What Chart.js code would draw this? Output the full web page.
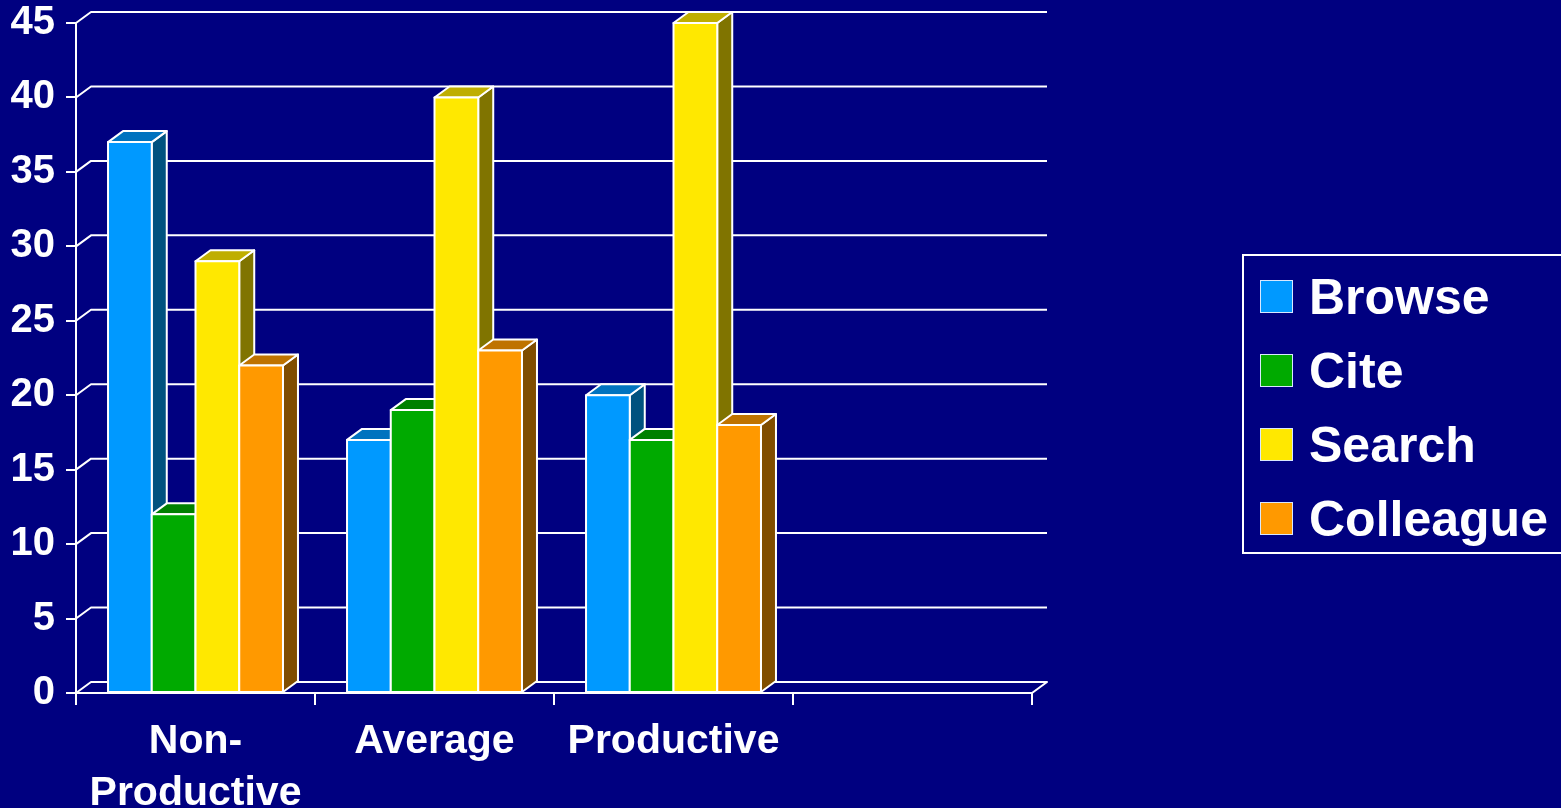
<!DOCTYPE html>
<html>
<head>
<meta charset="utf-8">
<script src="https://cdn.jsdelivr.net/npm/chart.js@4/dist/chart.umd.min.js"></script>
<style>
  html, body { margin: 0; padding: 0; background: #000080; overflow: hidden; }
  canvas { display: block; }
</style>
</head>
<body>
<canvas id="chart" width="1561" height="808"></canvas>
<script>
const groups = [["Non-", "Productive"], "Average", "Productive", ""];
const browse = [37, 17, 20, null];
const cite = [12, 19, 17, null];
const search = [29, 40, 45, null];
const colleague = [22, 23, 18, null];
const names = ["Browse", "Cite", "Search", "Colleague"];

const fronts = ["#0099ff", "#00aa00", "#ffe800", "#ff9900"];
const tops = ["#0073bf", "#008000", "#bfae00", "#bf7300"];
const sides = ["#00527f", "#005500", "#807400", "#804d00"];

const FONT = '"Liberation Sans", Arial, sans-serif';
const DX = 15, DY = 11; // depth of the 3d boxes and back wall

function poly(ctx, pts, fill) {
    ctx.beginPath();
    ctx.moveTo(pts[0][0], pts[0][1]);
    for (let k = 1; k < pts.length; k++) ctx.lineTo(pts[k][0], pts[k][1]);
    ctx.closePath();
    ctx.fillStyle = fill;
    ctx.fill();
    ctx.stroke();
}

// back wall gridlines + floor, then the boxes themselves
const boxes = {
    id: "boxes",
    beforeDatasetsDraw(chart) {
        const { ctx, chartArea: a, scales } = chart;
        const y = scales.y;
        ctx.save();
        ctx.strokeStyle = "#ffffff";
        ctx.lineWidth = 2;
        ctx.lineJoin = "round";
        y.ticks.forEach((t) => {
            const py = y.getPixelForValue(t.value);
            ctx.beginPath();
            ctx.moveTo(a.left, py);
            ctx.lineTo(a.left + DX, py - DY);
            ctx.lineTo(a.right + DX, py - DY);
            if (t.value === 0) ctx.lineTo(a.right, py);
            ctx.stroke();
        });

        const sets = chart.data.datasets;
        for (let c = 0; c < groups.length; c++) {
            sets.forEach((ds, i) => {
                if (ds.data[c] == null) return;
                const bar = chart.getDatasetMeta(i).data[c];
                const { x, y: top, base, width } = bar.getProps(["x", "y", "base", "width"], true);
                const l = x - width / 2, r = x + width / 2;
                poly(ctx, [[r, top], [r + DX, top - DY], [r + DX, base - DY], [r, base]], sides[i]);
                poly(ctx, [[l, top], [l + DX, top - DY], [r + DX, top - DY], [r, top]], tops[i]);
                poly(ctx, [[l, top], [r, top], [r, base], [l, base]], fronts[i]);
            });
        }
        ctx.restore();
        return false;
    },
    afterDraw(chart) {
        const ctx = chart.ctx;
        ctx.save();
        ctx.strokeStyle = "#ffffff";
        ctx.lineWidth = 2;
        ctx.strokeRect(1243, 255, 400, 298);
        ctx.font = "bold 50px " + FONT;
        ctx.textBaseline = "alphabetic";
        chart.data.datasets.forEach((d, i) => {
            const top = 280 + i * 74;
            ctx.fillStyle = d.backgroundColor;
            ctx.fillRect(1260, top, 33, 33);
            ctx.lineWidth = 1;
            ctx.strokeStyle = "#d8e8ff";
            ctx.strokeRect(1260.5, top + 0.5, 32, 32);
            ctx.fillStyle = "#ffffff";
            ctx.fillText(d.label, 1309, top + 34);
        });
        ctx.restore();
    }
};

const series = [browse, cite, search, colleague];

new Chart(document.getElementById("chart").getContext("2d"), {
    type: "bar",
    data: {
        labels: groups,
        datasets: series.map((vals, i) => ({
            label: names[i],
            data: vals,
            backgroundColor: fronts[i],
            categoryPercentage: 0.732,
            barPercentage: 1.0,
        })),
    },
    options: {
        responsive: false,
        animation: false,
        devicePixelRatio: 1,
        layout: { padding: { top: 23, right: 529, left: 0, bottom: 0 } },
        plugins: {
            legend: { display: false },
            tooltip: { enabled: false },
        },
        scales: {
            x: {
                offset: true,
                grid: {
                    offset: true,
                    drawOnChartArea: false,
                    tickLength: 12,
                    color: "#ffffff",
                    lineWidth: 2,
                },
                border: { display: true, color: "#ffffff", width: 2 },
                ticks: {
                    color: "#ffffff",
                    padding: 11,
                    maxRotation: 0,
                    autoSkip: false,
                    font: { family: FONT, size: 41, weight: "bold", lineHeight: 1.27 },
                },
                afterFit(scale) { scale.height = 115; },
            },
            y: {
                min: 0,
                max: 45,
                grid: {
                    drawOnChartArea: false,
                    tickLength: 10,
                    color: "#ffffff",
                    lineWidth: 2,
                },
                border: { display: true, color: "#ffffff", width: 2 },
                ticks: {
                    stepSize: 5,
                    color: "#ffffff",
                    padding: 11,
                    font: { family: FONT, size: 40, weight: "bold" },
                },
                afterFit(scale) {
                    scale.width = 76;
                    scale.paddingTop = 0;
                    scale.paddingBottom = 0;
                },
            },
        },
    },
    plugins: [boxes],
});
</script>
</body>
</html>
